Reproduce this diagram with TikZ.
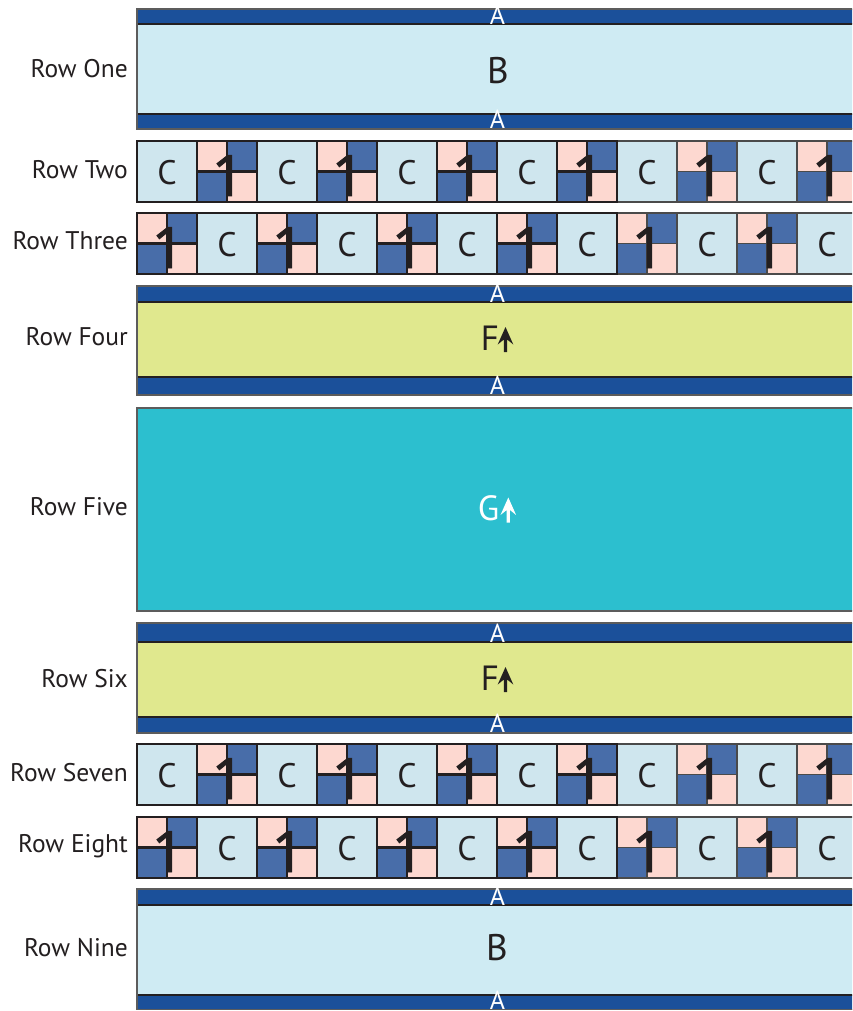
\documentclass[tikz,border=0pt]{standalone}
\usepackage{fontspec}
\setmainfont{PT Sans}
\newfontfamily\onefont[FakeBold=1.6]{Open Sans}
\definecolor{bandblue}{HTML}{1B509A}
\definecolor{lightb}{HTML}{CFEBF3}
\definecolor{cellb}{HTML}{CFE6EE}
\definecolor{pinkq}{HTML}{FDD8D0}
\definecolor{blueq}{HTML}{486DA9}
\definecolor{fyel}{HTML}{E0E88E}
\definecolor{gteal}{HTML}{2CBFCF}
\definecolor{ink}{HTML}{231F20}
\definecolor{edgegray}{HTML}{5C5C5C}
\definecolor{thingray}{HTML}{4A4A4A}
\tikzset{
  lbl/.style={anchor=east, inner sep=0pt, text=ink, font=\fontsize{25.5}{27}\selectfont},
  aletter/.style={anchor=base, inner sep=0pt, text=white, font=\fontsize{26}{28}\selectfont},
  bletter/.style={anchor=base, inner sep=0pt, text=ink, font=\fontsize{37}{39}\selectfont},
  fletter/.style={anchor=base, inner sep=0pt, text=ink, font=\fontsize{35}{37}\selectfont},
  cletter/.style={inner sep=0pt, text=ink, font=\fontsize{34}{36}\selectfont},
  oneglyph/.style={inner sep=0pt, text=ink, font=\onefont\fontsize{57}{60}\selectfont},
  bandfill/.style={fill=bandblue},
  outeredge/.style={draw=edgegray, line width=1.6pt},
  inneredge/.style={draw=ink, line width=1.4pt},
  pics/uparr/.style={code={
    \fill[#1] (0,0) -- (7.8,17.5) -- (1.6,12.5) -- (1.6,25) -- (-1.6,25) -- (-1.6,12.5) -- (-7.8,17.5) -- cycle;
  }}
}
% banded row: #1 top, #2 band1 bottom, #3 body bottom, #4 bottom, #5 body colour, #6 name
\newcommand\bandedrow[6]{%
  \fill[bandfill] (137,#1) rectangle (860,#2);
  \fill[#5] (137,#2) rectangle (860,#3);
  \fill[bandfill] (137,#3) rectangle (860,#4);
  \draw[inneredge] (137,#2) -- (860,#2);
  \draw[inneredge] (137,#3) -- (860,#3);
  \draw[outeredge] (137,#1) rectangle (860,#4);
  \node[aletter] (#6at) at (497.5,#2+0.5) {A};
  \node[aletter] (#6ab) at (497.5,#4-0.5) {A};
}
% cell row: #1 top, #2 bottom, #3 parity, #4 name
\newcommand\cellrow[4]{%
  \pgfmathsetmacro\ym{(#1+#2)/2}
  \foreach \i in {0,...,11}{
    \pgfmathsetmacro\xa{137+60*\i}
    \pgfmathsetmacro\xb{\xa+60}
    \pgfmathsetmacro\xm{\xa+30}
    \pgfmathtruncatemacro\kind{mod(\i+#3,2)}
    \ifnum\kind=0
      \fill[cellb] (\xa,#1) rectangle (\xb,#2);
    \else
      \fill[pinkq] (\xa,#1) rectangle (\xm,\ym);
      \fill[blueq] (\xm,#1) rectangle (\xb,\ym);
      \fill[blueq] (\xa,\ym) rectangle (\xm,#2);
      \fill[pinkq] (\xm,\ym) rectangle (\xb,#2);
    \fi
  }
  \foreach \i in {8,...,11}{
    \pgfmathsetmacro\xa{137+60*\i}
    \pgfmathsetmacro\xb{\xa+60}
    \pgfmathsetmacro\xm{\xa+30}
    \pgfmathtruncatemacro\kind{mod(\i+#3,2)}
    \draw[thingray, line width=1.1pt] (\xa,#1) rectangle (\xb,#2);
    \ifnum\kind=1
      \draw[thingray, line width=1.1pt] (\xm,#1) -- (\xm,#2) (\xa,\ym) -- (\xb,\ym);
    \fi
  }
  \foreach \i in {0,...,7}{
    \pgfmathsetmacro\xa{137+60*\i}
    \pgfmathsetmacro\xb{\xa+60}
    \pgfmathsetmacro\xm{\xa+30}
    \pgfmathtruncatemacro\kind{mod(\i+#3,2)}
    \draw[ink, line width=2.8pt] (\xa,#1) rectangle (\xb,#2);
    \ifnum\kind=1
      \draw[ink, line width=2.8pt] (\xm,#1) -- (\xm,#2) (\xa,\ym) -- (\xb,\ym);
    \fi
  }
  \foreach \i in {0,...,11}{
    \pgfmathsetmacro\xm{137+60*\i+30}
    \pgfmathtruncatemacro\kind{mod(\i+#3,2)}
    \ifnum\kind=0
      \node[cletter] (#4c\i) at (\xm,\ym+1) {C};
    \else
      \node[oneglyph, anchor=base] (#4o\i) at (\xm+1,#2-6) {1};
    \fi
  }
}
\begin{document}
\begin{tikzpicture}[x=1pt,y=-1pt]
\useasboundingbox (0,0) rectangle (852,1011);
\clip (0,0) rectangle (852,1011);
\fill[white] (0,0) rectangle (852,1011);

% Row One
\bandedrow{9}{24}{114}{129}{lightb}{r1}
\node[bletter] (r1b) at (498,83.5) {B};
% Row Two / Three
\cellrow{141}{202}{0}{r2}
\cellrow{213}{274}{1}{r3}
% Row Four
\bandedrow{286}{302}{377}{395}{fyel}{r4}
\node[fletter] (r4f) at (490,350.5) {F};
\pic at (505.5,327) {uparr=ink};
% Row Five
\fill[gteal] (137,408) rectangle (860,611);
\draw[edgegray, line width=1.4pt] (137,408) rectangle (860,611);
\node[fletter, text=white] (r5g) at (488.5,520) {G};
\pic at (508.3,497.5) {uparr=white};
% Row Six
\bandedrow{623}{642}{717}{733}{fyel}{r6}
\node[fletter] (r6f) at (490,690.5) {F};
\pic at (505.5,667) {uparr=ink};
% Row Seven / Eight
\cellrow{744}{805}{0}{r7}
\cellrow{817}{878}{1}{r8}
% Row Nine
\bandedrow{889}{905}{995}{1009.5}{lightb}{r9}
\node[bletter] (r9b) at (497,960) {B};

% labels
\node[lbl] (l1) at (128,69) {Row One};
\node[lbl] (l2) at (128,170) {Row Two};
\node[lbl] (l3) at (128,241) {Row Three};
\node[lbl] (l4) at (128,337) {Row Four};
\node[lbl] (l5) at (128,507) {Row Five};
\node[lbl] (l6) at (128,679) {Row Six};
\node[lbl] (l7) at (128,773) {Row Seven};
\node[lbl] (l8) at (128,846) {Row Eight};
\node[lbl] (l9) at (128,948) {Row Nine};
\end{tikzpicture}
\end{document}
